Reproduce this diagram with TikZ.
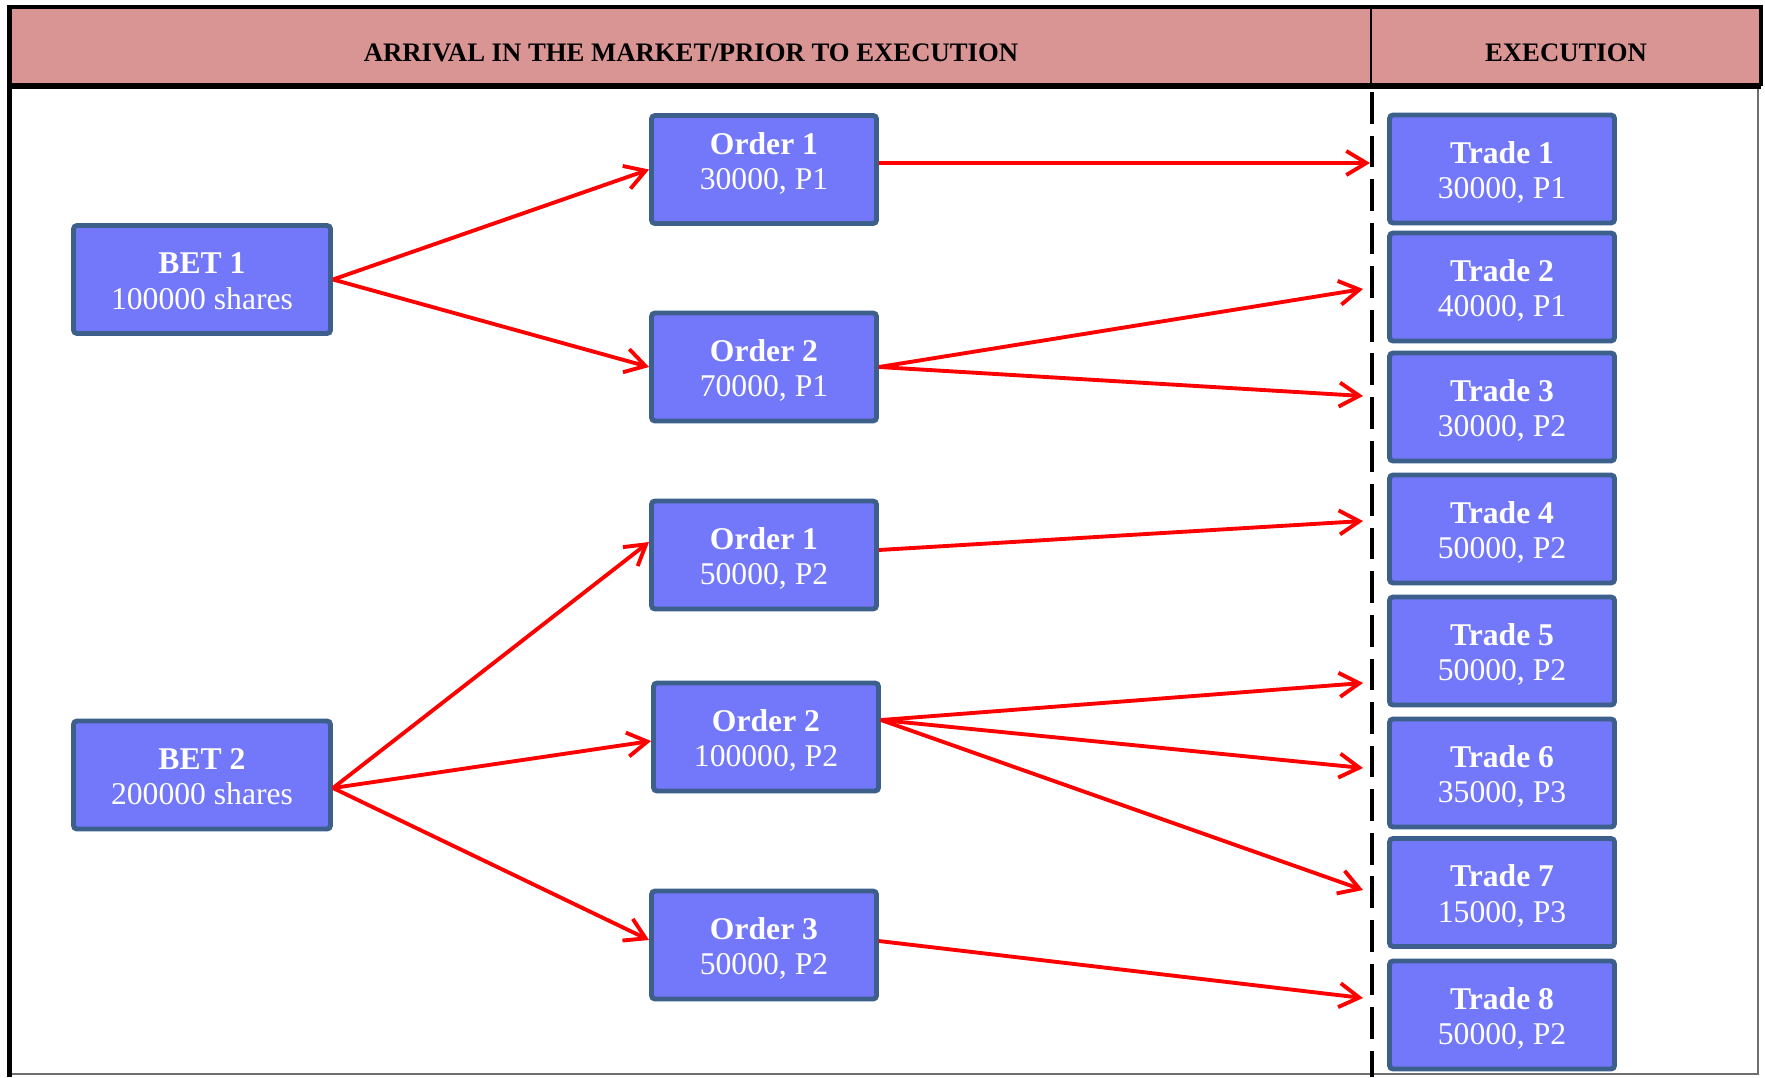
\documentclass[tikz,border=0pt]{standalone}
\usepackage{fontspec}
\setmainfont{Liberation Serif}
\usepackage{xcolor}
\usepackage{tikz}
\usetikzlibrary{arrows.meta,positioning,calc}
\definecolor{C_head}{RGB}{217,149,148}
\definecolor{C_box}{RGB}{115,120,250}
\definecolor{C_edge}{RGB}{60,95,140}
\definecolor{C_arrow}{RGB}{255,0,0}
\definecolor{C_frame}{RGB}{110,110,110}

\begin{document}
\begin{tikzpicture}[every node/.style={font=\small}]
  \tikzset{
    box/.style={rectangle, rounded corners=1pt, draw=C_edge, fill=C_box, line width=1.4pt, minimum width=2.25cm, minimum height=1.08cm, inner sep=0pt, align=center, text=white, text height=18.7pt, text depth=1.9pt, font=\fontsize{9}{10}\selectfont},
    betbox/.style={box, minimum width=2.57cm},
    flow/.style={-{Straight Barb[length=2mm,width=2.4mm]}, line width=1.1pt, C_arrow},
    head/.style={font=\bfseries\fontsize{7.6}{9}\selectfont, text=black},
    sep/.style={line width=1.1pt, dash pattern=on 9pt off 3.4pt}
  }
  \useasboundingbox (0,0) rectangle (17.65,-10.77);

  % header band and frame
  \fill[C_head] (0.095,-0.07) rectangle (17.61,-0.86);
  \draw[C_frame, line width=0.7pt] (17.58,-0.86) -- (17.58,-10.74) -- (0.095,-10.74);
  \draw[line width=1.3pt] (0.095,-10.77) -- (0.095,-0.07) -- (17.61,-0.07) -- (17.61,-0.86);
  \draw[line width=1.7pt] (0.095,-0.86) -- (17.61,-0.86);
  \draw[line width=0.7pt] (13.71,-0.07) -- (13.71,-0.86);
  \draw[sep] (13.72,-0.92) -- (13.72,-10.77);

  \node[head] (hpre) at (6.91,-0.53) {ARRIVAL IN THE MARKET/PRIOR TO EXECUTION};
  \node[head] (hexe) at (15.66,-0.53) {EXECUTION};

  % bets
  \node[betbox] (bet1) at (2.02,-2.795) {\textbf{BET 1}\\100000 shares};
  \node[betbox] (bet2) at (2.02,-7.75) {\textbf{BET 2}\\200000 shares};

  % orders
  \node[box, text height=16.1pt, text depth=4.7pt] (o11) at (7.64,-1.695) {\textbf{Order 1}\\30000, P1};
  \node[box] (o12) at (7.64,-3.67) {\textbf{Order 2}\\70000, P1};
  \node[box] (o21) at (7.64,-5.55) {\textbf{Order 1}\\50000, P2};
  \node[box] (o22) at (7.66,-7.37) {\textbf{Order 2}\\100000, P2};
  \node[box] (o23) at (7.64,-9.45) {\textbf{Order 3}\\50000, P2};

  % trades
  \foreach \i/\y/\q in {1/-1.69/{30000, P1},2/-2.87/{40000, P1},3/-4.07/{30000, P2},4/-5.29/{50000, P2},5/-6.51/{50000, P2},6/-7.73/{35000, P3},7/-8.925/{15000, P3},8/-10.15/{50000, P2}} {
    \node[box] (t\i) at (15.02,\y) {\textbf{Trade \i}\\\q};
  }

  % arrow ends on the execution line
  \coordinate (x1) at (13.70,-1.63);
  \coordinate (x2) at (13.63,-2.89);
  \coordinate (x3) at (13.63,-3.96);
  \coordinate (x4) at (13.63,-5.21);
  \coordinate (x5) at (13.63,-6.83);
  \coordinate (x6) at (13.63,-7.68);
  \coordinate (x7) at (13.63,-8.90);
  \coordinate (x8) at (13.63,-9.98);

  \draw[flow] (bet1.east) -- (o11.west);
  \draw[flow] (bet1.east) -- (o12.west);
  \draw[flow] ([yshift=-0.13cm]bet2.east) -- ([yshift=0.13cm]o21.west);
  \draw[flow] ([yshift=-0.13cm]bet2.east) -- ([yshift=-0.04cm]o22.west);
  \draw[flow] ([yshift=-0.13cm]bet2.east) -- ([yshift=0.05cm]o23.west);

  \draw[flow] ([yshift=0.065cm]o11.east) -- (x1);
  \draw[flow] (o12.east) -- (x2);
  \draw[flow] (o12.east) -- (x3);
  \draw[flow] ([yshift=0.05cm]o21.east) -- (x4);
  \draw[flow] ([yshift=0.17cm]o22.east) -- (x5);
  \draw[flow] ([yshift=0.17cm]o22.east) -- (x6);
  \draw[flow] ([yshift=0.17cm]o22.east) -- (x7);
  \draw[flow] ([yshift=0.04cm]o23.east) -- (x8);
\end{tikzpicture}
\end{document}
